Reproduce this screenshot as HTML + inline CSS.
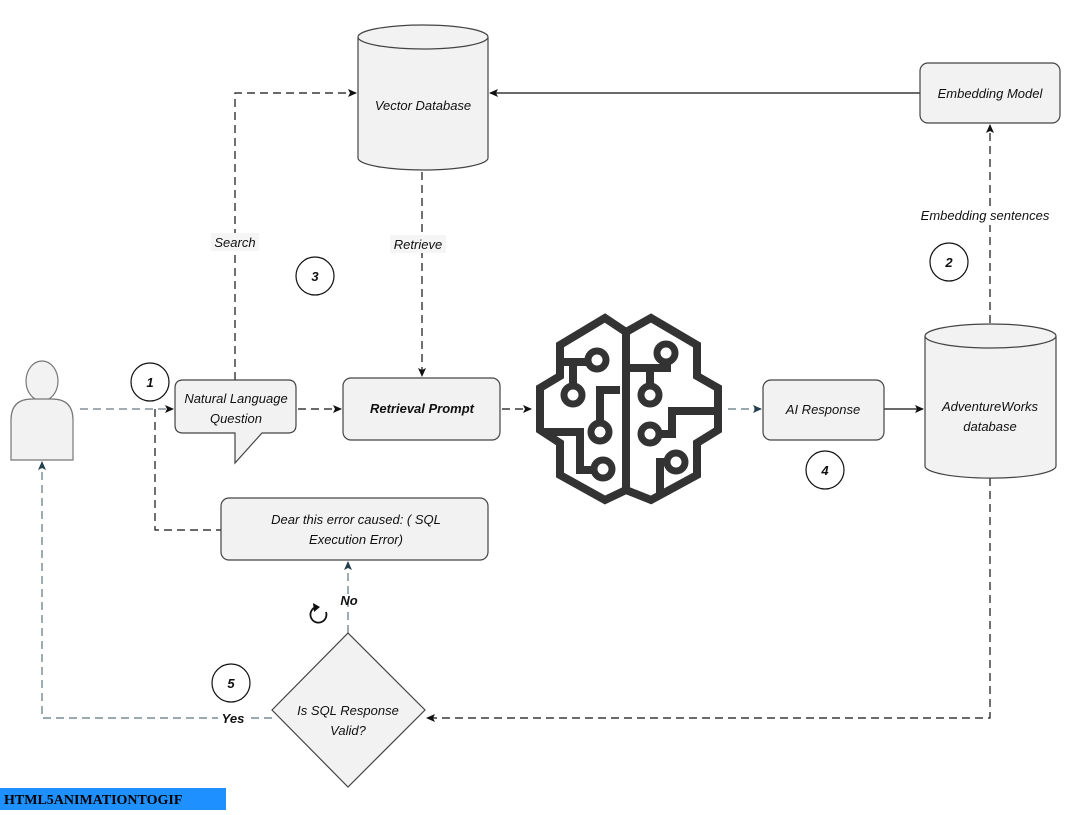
<!DOCTYPE html>
<html><head><meta charset="utf-8"><style>
body{margin:0;background:#fff;}
svg text{font-family:"Liberation Sans",sans-serif;font-style:italic;font-size:13px;fill:#111;}
</style></head><body>
<svg width="1069" height="810" viewBox="0 0 1069 810" xmlns="http://www.w3.org/2000/svg">
<defs>
<marker id="a" markerWidth="10" markerHeight="10" refX="8" refY="5" orient="auto" markerUnits="userSpaceOnUse"><path d="M0,1 L9,5 L0,9 L2,5 Z" fill="#111"/></marker>
<marker id="b" markerWidth="10" markerHeight="10" refX="8" refY="5" orient="auto" markerUnits="userSpaceOnUse"><path d="M0,1 L9,5 L0,9 L2,5 Z" fill="#23404e"/></marker>
</defs>
<g fill="none" stroke-width="1.2">
<!-- connectors -->
<path d="M80,409 H173" stroke="#6b7b85" stroke-dasharray="8,5" marker-end="url(#a)"/>
<path d="M155,409 V530 H221" stroke="#111" stroke-dasharray="8,5"/>
<path d="M235,380 V93 H356" stroke="#111" stroke-dasharray="8,5" marker-end="url(#a)"/>
<path d="M422,172 V376" stroke="#111" stroke-dasharray="8,5" marker-end="url(#a)"/>
<path d="M298,409 H341" stroke="#111" stroke-dasharray="8,5" marker-end="url(#a)"/>
<path d="M502,409 H531" stroke="#111" stroke-dasharray="8,5" marker-end="url(#a)"/>
<path d="M728,409 H761" stroke="#5d7480" stroke-dasharray="8,5" marker-end="url(#b)"/>
<path d="M884,409 H923" stroke="#111" marker-end="url(#a)"/>
<path d="M990,323 V125" stroke="#111" stroke-dasharray="8,5" marker-end="url(#a)"/>
<path d="M920,93 H490" stroke="#111" marker-end="url(#a)"/>
<path d="M990,478 V718 H427" stroke="#111" stroke-dasharray="8,5" marker-end="url(#a)"/>
<path d="M348,633 V562" stroke="#5d7480" stroke-dasharray="8,5" marker-end="url(#b)"/>
<path d="M272,718 H42 V462" stroke="#5d7480" stroke-dasharray="8,5" marker-end="url(#b)"/>
</g>
<!-- labels on lines -->
<rect x="211" y="233" width="48" height="18" fill="#f5f5f5"/><text x="235" y="247" text-anchor="middle">Search</text>
<rect x="390" y="235" width="56" height="18" fill="#f5f5f5"/><text x="418" y="249" text-anchor="middle">Retrieve</text>
<rect x="910" y="206" width="150" height="19" fill="#fff"/><text x="985" y="220" text-anchor="middle">Embedding sentences</text>
<text x="349" y="605" text-anchor="middle" font-weight="bold">No</text>
<rect x="218" y="710" width="30" height="17" fill="#fff"/><text x="233" y="723" text-anchor="middle" font-weight="bold">Yes</text>
<!-- refresh icon -->
<path d="M326,612 A8,8 0 1 1 316,607" fill="none" stroke="#111" stroke-width="1.8"/>
<path d="M313,603 L320,607 L314,612 Z" fill="#111"/>
<!-- person -->
<g fill="#f2f2f2" stroke="#777" stroke-width="1.2">
<ellipse cx="42" cy="381" rx="16" ry="20"/>
<path d="M11,460 V420 Q11,399 32,399 H52 Q73,399 73,420 V460 Z"/>
</g>
<!-- vector db -->
<g fill="#f2f2f2" stroke="#444" stroke-width="1.2">
<path d="M358,37 V158 A65,12 0 0 0 488,158 V37"/>
<ellipse cx="423" cy="37" rx="65" ry="12"/>
<path d="M925,336 V466 A65,12 0 0 0 1056,466 V336"/>
<ellipse cx="990.5" cy="336" rx="65.5" ry="12"/>
<rect x="920" y="63" width="140" height="60" rx="8"/>
<path d="M183,380 H288 Q296,380 296,388 V425 Q296,433 288,433 H262 L235,463 L235,433 H183 Q175,433 175,425 V388 Q175,380 183,380 Z"/>
<rect x="343" y="378" width="157" height="62" rx="8"/>
<rect x="763" y="380" width="121" height="60" rx="8"/>
<rect x="221" y="498" width="267" height="62" rx="8"/>
<path d="M348,633 L425,710 L348,787 L272,710 Z"/>
</g>
<text x="423" y="110" text-anchor="middle">Vector Database</text>
<text x="990" y="98" text-anchor="middle">Embedding Model</text>
<text x="990" y="411" text-anchor="middle">AdventureWorks</text>
<text x="990" y="431" text-anchor="middle">database</text>
<text x="236" y="403" text-anchor="middle">Natural Language</text>
<text x="236" y="423" text-anchor="middle">Question</text>
<text x="422" y="413" text-anchor="middle" font-weight="bold">Retrieval Prompt</text>
<text x="823" y="414" text-anchor="middle">AI Response</text>
<text x="356" y="524" text-anchor="middle">Dear this error caused: ( SQL</text>
<text x="356" y="544" text-anchor="middle">Execution Error)</text>
<text x="348" y="715" text-anchor="middle">Is SQL Response</text>
<text x="348" y="735" text-anchor="middle">Valid?</text>
<!-- numbered circles -->
<g fill="#fff" stroke="#111" stroke-width="1.2">
<circle cx="150" cy="382" r="19"/><circle cx="315" cy="276" r="19"/><circle cx="949" cy="262" r="19"/><circle cx="825" cy="470" r="19"/><circle cx="231" cy="683" r="19"/>
</g>
<g font-weight="bold">
<text x="150" y="387" text-anchor="middle">1</text><text x="315" y="281" text-anchor="middle">3</text><text x="949" y="267" text-anchor="middle">2</text><text x="825" y="475" text-anchor="middle">4</text><text x="231" y="688" text-anchor="middle">5</text>
</g>
<!-- brain -->
<g fill="none" stroke="#333" stroke-width="8" stroke-linejoin="miter">
<path d="M626,490 L605,500 L560,475 L560,443 L540,430 L540,388 L560,376 L560,345 L605,318 L626,332 Z"/>
<path d="M626,490 L651,500 L697,475 L697,443 L718,430 L718,388 L697,376 L697,345 L651,318 L626,332"/>
<path d="M563,362 H573 V386 M573,362 H590"/>
<path d="M600,440 V390 H620"/>
<path d="M543,432 H580 V470 H595"/>
<path d="M630,368 H667 V360 M650,368 V387"/>
<path d="M718,411 H672 V434 H658"/>
<path d="M660,495 V462 H667"/>
</g>
<g fill="#fff" stroke="#333" stroke-width="7">
<circle cx="597" cy="360" r="9"/><circle cx="573" cy="395" r="9"/><circle cx="600" cy="432" r="9"/><circle cx="603" cy="469" r="9"/>
<circle cx="666" cy="353" r="9"/><circle cx="650" cy="395" r="9"/><circle cx="650" cy="434" r="9"/><circle cx="676" cy="462" r="9"/>
</g>
<rect x="0" y="788" width="226" height="22" fill="#1e90ff"/>
<text x="4" y="804" style="font-family:'Liberation Serif',serif;font-style:normal;font-weight:bold;font-size:14px;fill:#000">HTML5ANIMATIONTOGIF</text>
</svg>
</body></html>
